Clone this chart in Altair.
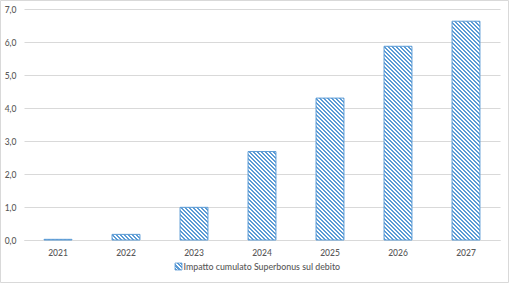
import altair as alt
import pandas as pd

# ---- data ----
years = ["2021", "2022", "2023", "2024", "2025", "2026", "2027"]
values = [0.02, 0.17, 0.99, 2.68, 4.30, 5.87, 6.63]
series_name = "Impatto cumulato Superbonus sul debito"
y_ticks = [0, 1, 2, 3, 4, 5, 6, 7]

# ---- style / layout ----
PLOT_W, PLOT_H = 476, 231
Y_MAX = 7
PAD_INNER = 0.59
BLUE = "#5b9bd5"
GREY = "#595959"
GRID = "#d9d9d9"
FONT = "Lato"
PERIOD = 4.0
STRIPE = 2.4

step = PLOT_W / len(years)
bar_w = step * (1 - PAD_INNER)


def hatch(w, h):
    """Linear gradient emulating a '\\\\' hatch pattern on a w x h box."""
    h = max(h, 0.01)
    span = w + h
    stops = []
    pos = 0.0
    while pos < span:
        a = pos / span
        b = min(pos + STRIPE, span) / span
        c = min(pos + PERIOD, span) / span
        stops += [
            {"offset": round(a, 5), "color": BLUE},
            {"offset": round(b, 5), "color": BLUE},
            {"offset": round(b, 5), "color": "white"},
            {"offset": round(c, 5), "color": "white"},
        ]
        pos += PERIOD
    norm = w * w + h * h
    return {
        "gradient": "linear",
        "x1": 0, "y1": 1,
        "x2": round(w * span / norm, 5),
        "y2": round(1 - h * span / norm, 5),
        "stops": stops,
    }


df = pd.DataFrame({"year": years, "value": values})

x_enc = alt.X(
    "year:N",
    sort=years,
    scale=alt.Scale(paddingInner=PAD_INNER, paddingOuter=PAD_INNER / 2),
    axis=alt.Axis(title=None, labelAngle=0, ticks=False, domain=True,
                  domainColor=GRID, domainWidth=1, grid=False,
                  labelColor=GREY, labelFont=FONT, labelFontSize=8.5,
                  labelFontWeight=500, labelPadding=8),
)
y_enc = alt.Y(
    "value:Q",
    scale=alt.Scale(domain=[0, Y_MAX], nice=False),
    axis=alt.Axis(title=None, values=y_ticks,
                  labelExpr="replace(format(datum.value, '.1f'), '.', ',')",
                  ticks=False, domain=False, grid=True, gridColor=GRID,
                  gridWidth=1, labelColor=GREY, labelFont=FONT,
                  labelFontSize=8.5, labelFontWeight=500, labelPadding=8),
)

layers = []
for yr, v in zip(years, values):
    h = v / Y_MAX * PLOT_H
    layers.append(
        alt.Chart(df)
        .transform_filter(alt.datum.year == yr)
        .mark_bar(stroke=BLUE, strokeWidth=1)
        .encode(x=x_enc, y=y_enc, fill=alt.value(hatch(bar_w, h)))
    )

legend_df = pd.DataFrame({"label": [series_name]})
legend_box = alt.Chart(legend_df).mark_rect(stroke=BLUE, strokeWidth=0.8).encode(
    x=alt.value(151), x2=alt.value(158), y=alt.value(254), y2=alt.value(261),
    fill=alt.value(hatch(7, 7)),
)
legend_text = alt.Chart(legend_df).mark_text(
    align="left", baseline="middle", font=FONT, fontSize=8.8, fontWeight=500,
    color=GREY
).encode(x=alt.value(159.5), y=alt.value(257.5), text="label:N")

border = alt.Chart(legend_df).mark_rect(fill="transparent", stroke=GRID, strokeWidth=1).encode(
    x=alt.value(-23.5), x2=alt.value(484.5), y=alt.value(-8.5), y2=alt.value(273.5)
)

chart = alt.layer(*layers, legend_box, legend_text, border).properties(
    width=PLOT_W, height=PLOT_H,
    autosize=alt.AutoSizeParams(type="none"),
    padding={"left": 24, "top": 9, "right": 9, "bottom": 43},
    background="white",
).configure_view(stroke=None)

chart.save("out.html", embed_options={"renderer": "svg", "actions": False})
